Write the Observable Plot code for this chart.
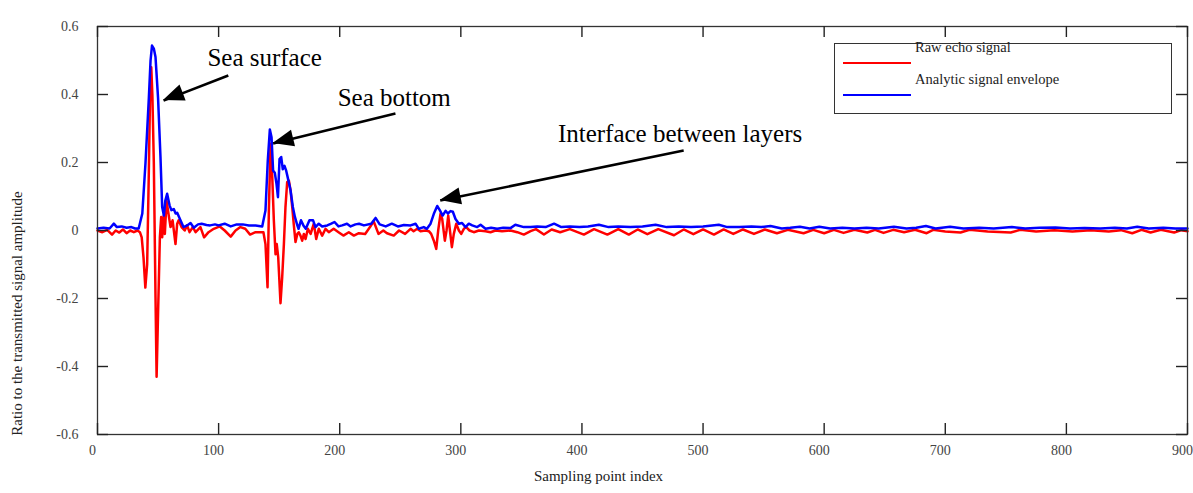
<!DOCTYPE html>
<html>
<head>
<meta charset="utf-8">
<script src="https://cdn.jsdelivr.net/npm/d3@7"></script>
<script src="https://cdn.jsdelivr.net/npm/@observablehq/plot@0.6"></script>
<style>
  body { margin: 0; background: #fff; }
  #wrap { position: relative; width: 1193px; height: 493px; font-family: "Liberation Serif", "DejaVu Serif", serif; }
  #legend { position: absolute; left: 834px; top: 43px; width: 338px; height: 71px; border: 1.5px solid #333; background: #fff; box-sizing: border-box; }
  .lg-line { position: absolute; left: 8px; width: 68px; height: 0; border-top: 2.5px solid; }
  .lg-text { position: absolute; left: 80px; font-size: 14.5px; color: #222; white-space: nowrap; }
</style>
</head>
<body>
<div id="wrap"></div>
<script>
// ---- data ----
const rawX = [0,4,8,12,15,18,21,24,27,30,33,35,36.5,38,39.5,41,42.4,43.5,44.4,45.3,46.5,47.9,48.8,50,51.5,52.6,53.4,54.8,55.6,57,59,60.3,62,64.4,65.8,67,69.4,72,74,76,78.7,81,85,88,91.7,96,101,105,110,114,118,122,126,130.5,137,138.7,140.4,141.5,142.9,144.3,145.6,147,148,149.2,151.1,152.5,153.9,155.2,156.6,158,159.4,160.8,162,163.5,165,166.2,167.6,169,170.4,171.8,173.7,176,178.6,180.6,182.7,185.5,188.3,191,195,199,203,207.5,211.7,215.8,221,225,228,232,236,239,244.6,249,254,258.5,261,264,266.7,270.8,273.6,275.5,277.7,279.7,281.3,283.2,284.6,286.8,288.2,289.6,291,292.6,294.2,296.2,298.4,300.3,302.5,304.4,307.2,310.7,314.9,320.4,324.5,328.6,334,341,346.6,352,357.6,362,368.6,375,382,390,401.6,410,421,430,438.7,446,454,463,476,484,492,500,509,517,525,533,542,551,561,570,583,591,600,608,616,625,635.6,642,649,657,666,675,684.6,690,700,712.6,720,735,754,762,775,790,805,820,835,845,854.4,862,869.5,878,889,895,900];
const rawY = [0,-0.005,0.002,-0.012,0,-0.006,0.003,-0.008,0,-0.005,0,-0.005,-0.02,-0.08,-0.168,-0.1,0.176,0.42,0.48,0.4,0.2,-0.196,-0.43,-0.245,-0.02,0.04,-0.02,0.045,-0.01,0.088,0.04,0.01,0.03,-0.04,0.02,0.03,0.01,0,0.015,-0.005,0.01,-0.005,0.01,-0.02,-0.005,0.005,0.012,0,-0.018,0,0.01,0.005,-0.012,-0.005,-0.005,-0.04,-0.167,0.06,0.255,0.157,0.03,-0.07,-0.04,-0.078,-0.214,-0.137,-0.04,0.069,0.142,0.147,0.118,0.069,0.02,-0.034,-0.01,-0.005,-0.015,-0.03,-0.01,-0.025,0.005,-0.01,0.02,-0.025,0.005,-0.015,0.005,-0.005,0.005,-0.005,-0.015,-0.005,-0.015,-0.008,-0.01,0.01,0.027,-0.01,0,-0.008,-0.015,0,-0.01,0.005,-0.002,0.005,-0.002,0,-0.002,-0.01,-0.03,-0.054,0,0.049,0.034,-0.03,0,0.044,0,-0.049,-0.01,0.02,0,-0.01,0.005,0.01,0,-0.005,0,-0.002,-0.005,0,-0.002,0,-0.005,-0.012,-0.002,0.004,-0.012,0.003,-0.005,0.004,-0.012,0.004,-0.012,0.004,-0.012,0.003,-0.011,0.004,-0.014,0.003,-0.011,0.003,-0.012,0.003,-0.01,0.003,-0.01,0.003,-0.008,0.002,-0.008,0.002,-0.008,0.002,-0.007,0.002,-0.006,0.002,-0.007,0.002,-0.005,0.002,-0.008,0.002,-0.003,-0.006,0.002,-0.003,-0.006,0.002,-0.003,0.001,-0.003,0.001,-0.003,0.001,-0.008,0.002,-0.006,0.002,-0.006,0.001,-0.002];

const envX = [0,5,10,13.5,16,20,24,28,31,34,37,39.6,42.4,43.8,45,46.5,47.9,50,52,53.4,54.8,56,57.5,59.5,61,63,64.5,65.8,68.5,71,74,76.8,79.5,83,86,90,93,97,100,105,110,115,120,125,130.5,136,138.7,140.6,142.3,143.7,145,146.4,147.8,149,150.3,151.7,153,154.4,155.8,157,159.4,161.3,163,165,166,168,170,172,175,178,180,182.7,185.5,189.7,193,195.7,199,202,206,209,213,216,220,226,229.6,233,238,243,248,253,258.5,262.6,265.3,269.4,272,275,277.7,280.5,282.6,285,287.4,289.3,291.5,293.4,295.6,298.4,301,303.9,306.6,309.4,313.5,316.3,320.4,325,330,335,341,345,352,357.6,363,370,377,383,390,398,405,414,422,430,440,450,460.8,470,480,490,500,513,520,530,540,548,555.7,565,572,580,588,596,605,615,625,635,645,657.6,668,676,684,692,704,715,728,740,755,766,778,791,803,815,828,840,850,858.5,868,880,890,900];
const envY = [0.006,0.008,0.006,0.02,0.01,0.012,0.008,0.01,0.006,0.006,0.05,0.197,0.39,0.5,0.544,0.535,0.51,0.39,0.216,0.069,0.044,0.088,0.108,0.074,0.06,0.063,0.05,0.052,0.03,0.01,0.015,0.022,0.008,0.018,0.02,0.016,0.015,0.018,0.015,0.02,0.012,0.018,0.018,0.015,0.015,0.012,0.059,0.206,0.297,0.274,0.176,0.17,0.137,0.098,0.21,0.216,0.18,0.19,0.176,0.157,0.118,0.069,0.04,0.015,0.005,0.03,0.015,0.005,0.03,0.03,0.01,0.02,0.012,0.015,0.02,0.025,0.012,0.015,0.02,0.012,0.018,0.02,0.015,0.02,0.037,0.018,0.012,0.02,0.012,0.016,0.015,0.02,0.005,0.01,0.005,0.02,0.049,0.072,0.06,0.044,0.058,0.05,0.057,0.055,0.034,0.02,0.022,0.01,0.02,0.015,0.01,0.017,0.005,0.008,0.005,0.008,0.007,0.017,0.01,0.01,0.012,0.01,0.02,0.01,0.012,0.01,0.012,0.017,0.01,0.012,0.01,0.012,0.017,0.01,0.012,0.01,0.012,0.017,0.01,0.01,0.012,0.01,0.013,0.006,0.008,0.011,0.006,0.011,0.006,0.008,0.006,0.008,0.006,0.011,0.006,0.008,0.013,0.006,0.011,0.006,0.008,0.006,0.01,0.006,0.008,0.009,0.006,0.007,0.006,0.008,0.006,0.011,0.006,0.008,0.006,0.006];

const seriesNames = ["Raw echo signal", "Analytic signal envelope"];
const xTicks = [0, 100, 200, 300, 400, 500, 600, 700, 800, 900];
const yTicks = [-0.6, -0.4, -0.2, 0, 0.2, 0.4, 0.6];
const xLabel = "Sampling point index";
const yLabel = "Ratio to the transmitted signal amplitude";

const noteText = ["Sea surface", "Sea bottom", "Interface between layers"];
const noteX = [138, 245, 481];
const noteY = [0.506, 0.391, 0.285];
const arrowFromX = [108, 246, 484];
const arrowFromY = [0.456, 0.344, 0.235];
const arrowToX = [54.5, 145, 283];
const arrowToY = [0.382, 0.256, 0.088];

// ---- build ----
const RED = "#ff0000", BLUE = "#0000ff";
const raw = rawX.map((x, i) => ({x, y: rawY[i]}));
const env = envX.map((x, i) => ({x, y: envY[i]}));
const notes = noteText.map((t, i) => ({t, x: noteX[i], y: noteY[i]}));
const arrows = arrowFromX.map((x, i) => ({x1: x, y1: arrowFromY[i], x2: arrowToX[i], y2: arrowToY[i]}));
const font = '"Liberation Serif", "DejaVu Serif", serif';

const W = 1193, H = 493, mL = 97, mR = 6, mT = 26, mB = 59;
const innerW = W - mL - mR, innerH = H - mT - mB, TL = 11;
const tickStyle = {stroke: "#222", strokeWidth: 1.4};

const chart = Plot.plot({
  width: W, height: H,
  marginLeft: mL, marginRight: mR, marginTop: mT, marginBottom: mB,
  style: {fontFamily: font, fontSize: "14px", color: "#444", background: "#fff", overflow: "visible"},
  x: {domain: [0, 900]},
  y: {domain: [-0.6, 0.6]},
  marks: [
    Plot.axisX(xTicks, {anchor: "bottom", tickSize: 0, tickPadding: 11, dx: -5, label: null, tickFormat: d => String(d), fill: "#444"}),
    Plot.axisY(yTicks, {anchor: "left", tickSize: 0, tickPadding: 19, label: null, tickFormat: d => String(d), fill: "#444"}),
    Plot.line(raw, {x: "x", y: "y", stroke: RED, strokeWidth: 2.5}),
    Plot.line(env, {x: "x", y: "y", stroke: BLUE, strokeWidth: 2.5}),
    Plot.frame({stroke: "#333", strokeWidth: 1.3}),
    // inward tick marks on all four sides
    Plot.ruleX(xTicks, {x: d => d, insetTop: innerH - TL, ...tickStyle}),
    Plot.ruleX(xTicks, {x: d => d, insetBottom: innerH - TL, ...tickStyle}),
    Plot.ruleY(yTicks, {y: d => d, insetRight: innerW - TL, ...tickStyle}),
    Plot.ruleY(yTicks, {y: d => d, insetLeft: innerW - TL, ...tickStyle}),
    Plot.link(arrows, {x1: "x1", y1: "y1", x2: "x2", y2: "y2", stroke: "#000", strokeWidth: 2.6}),
    Plot.text(notes, {x: "x", y: "y", text: "t", fontSize: 25, fill: "#000", fontFamily: font}),
    Plot.text([xLabel], {frameAnchor: "bottom", dy: 46, dx: -44, fontSize: 15, fill: "#222", fontFamily: font}),
    Plot.text([yLabel], {frameAnchor: "left", textAnchor: "middle", rotate: -90, dx: -80, dy: 83, fontSize: 15, fill: "#222", fontFamily: font})
  ]
});

(function arrowHeads() {
  const sx = chart.scale("x"), sy = chart.scale("y");
  const g = d3.select(chart).append("g");
  arrows.forEach(a => {
    const x0 = sx.apply(a.x1), y0 = sy.apply(a.y1), x1 = sx.apply(a.x2), y1 = sy.apply(a.y2);
    const len = Math.hypot(x1 - x0, y1 - y0), ux = (x1 - x0) / len, uy = (y1 - y0) / len;
    const L = 21, HW = 8.5, bx = x1 - ux * L, by = y1 - uy * L;
    g.append("polygon")
      .attr("points", `${x1},${y1} ${bx - uy * HW},${by + ux * HW} ${bx + uy * HW},${by - ux * HW}`)
      .attr("fill", "#000");
  });
})();

const wrap = document.getElementById("wrap");
wrap.appendChild(chart);

const legend = document.createElement("div");
legend.id = "legend";
const colors = [RED, BLUE];
const lineTops = [18, 50];
const textTops = [-5, 27];
seriesNames.forEach((name, i) => {
  const ln = document.createElement("div");
  ln.className = "lg-line";
  ln.style.top = lineTops[i] + "px";
  ln.style.borderTopColor = colors[i];
  legend.appendChild(ln);
  const tx = document.createElement("div");
  tx.className = "lg-text";
  tx.style.top = textTops[i] + "px";
  tx.textContent = name;
  legend.appendChild(tx);
});
wrap.appendChild(legend);
</script>
</body>
</html>
